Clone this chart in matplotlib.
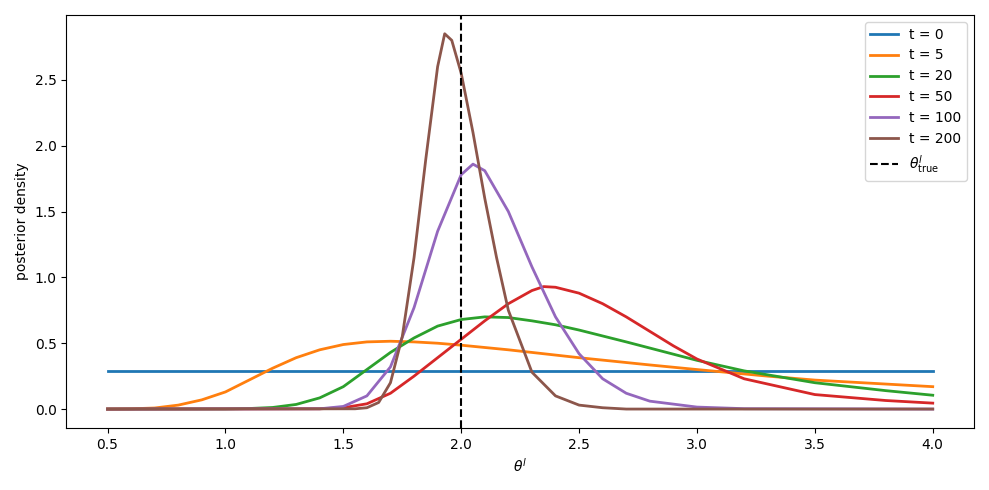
import matplotlib
matplotlib.use("Agg")
import matplotlib.pyplot as plt

x0 = [0.5, 4.0]
y0 = [0.2857, 0.2857]

x5 = [0.5, 0.6, 0.7, 0.8, 0.9, 1.0, 1.1, 1.2, 1.3, 1.4, 1.5, 1.6, 1.7, 1.8, 1.9, 2.0, 2.2, 2.5, 2.8, 3.0, 3.3, 3.5, 3.8, 4.0]
y5 = [0.0, 0.002, 0.008, 0.03, 0.07, 0.13, 0.22, 0.31, 0.39, 0.45, 0.49, 0.51, 0.515, 0.51, 0.50, 0.485, 0.45, 0.39, 0.335, 0.30, 0.25, 0.22, 0.19, 0.17]

x20 = [0.5, 1.0, 1.1, 1.2, 1.3, 1.4, 1.5, 1.6, 1.7, 1.8, 1.9, 2.0, 2.1, 2.2, 2.3, 2.4, 2.5, 2.7, 3.0, 3.2, 3.5, 3.8, 4.0]
y20 = [0.0, 0.001, 0.004, 0.012, 0.035, 0.085, 0.17, 0.30, 0.43, 0.54, 0.63, 0.68, 0.70, 0.695, 0.67, 0.64, 0.60, 0.51, 0.37, 0.29, 0.20, 0.14, 0.105]

x50 = [0.5, 1.4, 1.5, 1.6, 1.7, 1.8, 1.9, 2.0, 2.1, 2.2, 2.3, 2.35, 2.4, 2.5, 2.6, 2.7, 2.8, 2.9, 3.0, 3.2, 3.5, 3.8, 4.0]
y50 = [0.0, 0.002, 0.01, 0.04, 0.12, 0.25, 0.39, 0.53, 0.67, 0.80, 0.90, 0.93, 0.925, 0.88, 0.80, 0.70, 0.59, 0.48, 0.38, 0.23, 0.11, 0.065, 0.045]

x100 = [0.5, 1.4, 1.5, 1.6, 1.7, 1.8, 1.9, 2.0, 2.05, 2.1, 2.2, 2.3, 2.4, 2.5, 2.6, 2.7, 2.8, 3.0, 3.2, 4.0]
y100 = [0.0, 0.002, 0.02, 0.10, 0.32, 0.77, 1.35, 1.78, 1.86, 1.81, 1.50, 1.08, 0.70, 0.42, 0.23, 0.12, 0.06, 0.015, 0.003, 0.0]

x200 = [0.5, 1.55, 1.6, 1.65, 1.7, 1.75, 1.8, 1.85, 1.9, 1.93, 1.96, 2.0, 2.05, 2.1, 2.15, 2.2, 2.3, 2.4, 2.5, 2.6, 2.7, 4.0]
y200 = [0.0, 0.002, 0.01, 0.05, 0.20, 0.55, 1.15, 1.90, 2.60, 2.85, 2.80, 2.55, 2.10, 1.60, 1.15, 0.75, 0.28, 0.10, 0.03, 0.01, 0.0, 0.0]

series = [("t = 0", x0, y0), ("t = 5", x5, y5), ("t = 20", x20, y20),
          ("t = 50", x50, y50), ("t = 100", x100, y100), ("t = 200", x200, y200)]
theta_true = 2.0

fig, ax = plt.subplots(figsize=(9.89, 4.9), dpi=100)
for lab, xs, ys in series:
    ax.plot(xs, ys, lw=2, label=lab)
ax.axvline(theta_true, color="black", ls="--", label=r"$\theta^l_{\rm true}$")
ax.set_xlabel(r"$\theta^l$")
ax.set_ylabel("posterior density")
ax.legend(loc="upper right")
fig.tight_layout()
fig.savefig("out.png")
